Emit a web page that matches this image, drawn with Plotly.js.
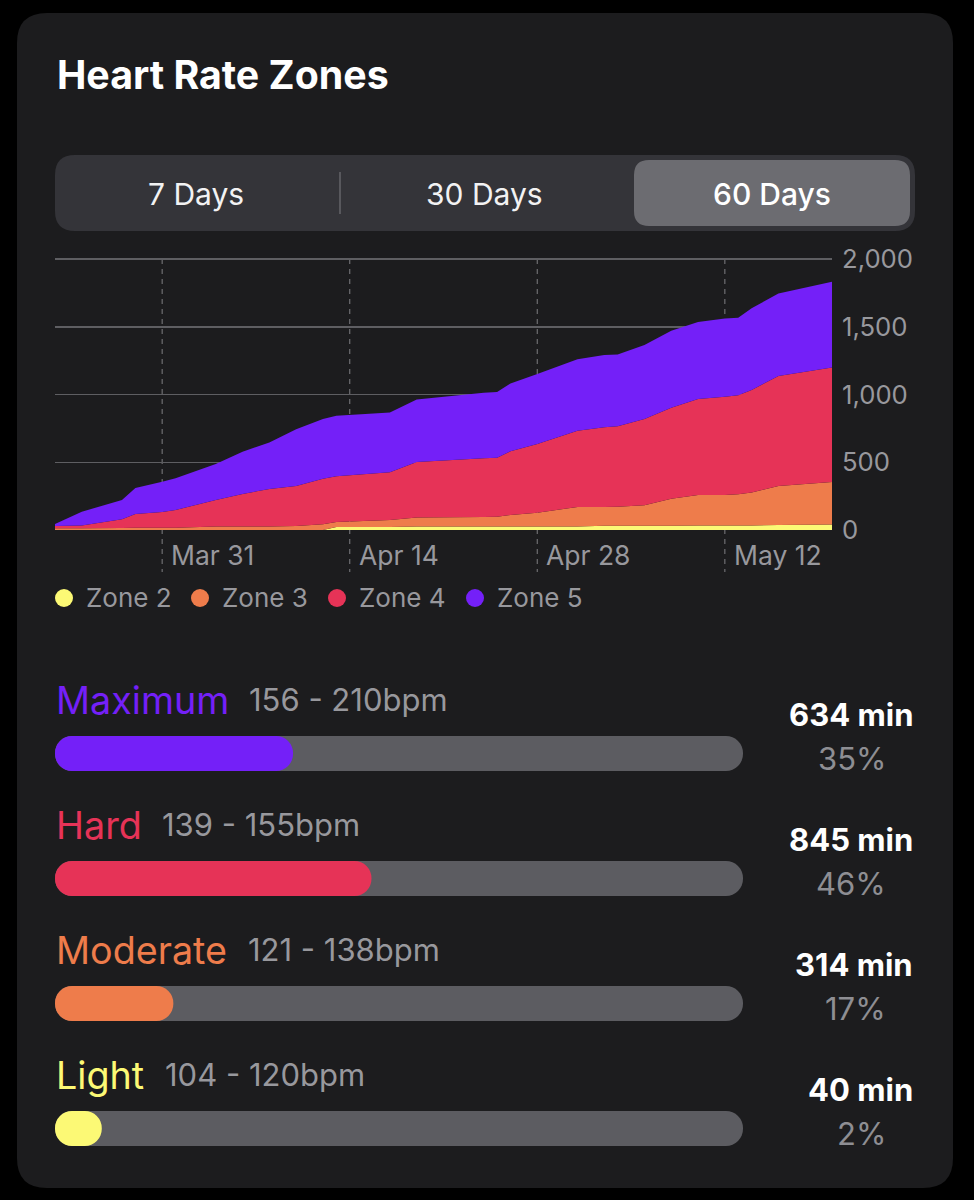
<!DOCTYPE html>
<html>
<head>
<meta charset="utf-8">
<script src="https://cdn.plot.ly/plotly-3.0.1.min.js"></script>
<style>
  html, body { margin: 0; padding: 0; background: #000; }
</style>
</head>
<body>
<div id="chart" style="width:974px;height:1200px"></div>
<script>
const dates = ['2021-03-23', '2021-03-25', '2021-03-28', '2021-03-29', '2021-03-31', '2021-04-01', '2021-04-04', '2021-04-06',
  '2021-04-08', '2021-04-10', '2021-04-12', '2021-04-13', '2021-04-17', '2021-04-19', '2021-04-24', '2021-04-25',
  '2021-04-26', '2021-04-28', '2021-05-01', '2021-05-03', '2021-05-04', '2021-05-06', '2021-05-08', '2021-05-10',
  '2021-05-12', '2021-05-13', '2021-05-14', '2021-05-16', '2021-05-20'];

const zone2 = [0, 0, 0, 0, 0, 0, 0, 0, 0, 0, 0, 22, 22, 25, 25, 25, 25, 25, 25, 32, 32, 32, 32, 33, 33, 33, 34, 37, 40];
const zone3 = [12, 12, 15, 17, 17, 17, 25, 25, 25, 30, 42, 37, 52, 68, 71, 73, 86, 103, 145, 138, 140, 150, 199, 225, 225, 230, 242, 288, 314];
const zone4 = [18, 22, 64, 101, 116, 131, 196, 241, 278, 295, 337, 337, 352, 409, 433, 436, 470, 507, 563, 588, 593, 637, 672, 709, 726, 731, 757, 812, 845];
const zone5 = [14, 101, 142, 192, 224, 233, 266, 312, 342, 418, 440, 448, 442, 462, 484, 484, 501, 516, 527, 534, 531, 546, 568, 568, 576, 573, 603, 609, 634];

const zoneNames = ['Zone 2', 'Zone 3', 'Zone 4', 'Zone 5'];
const zoneColors = ['#FCF975', '#EE7C4B', '#E63357', '#7420F8'];

const xTickDates = ['2021-03-31', '2021-04-14', '2021-04-28', '2021-05-12'];
const xTickLabels = ['Mar 31', 'Apr 14', 'Apr 28', 'May 12'];
const yTicks = [0, 500, 1000, 1500, 2000];

const tabs = ['7 Days', '30 Days', '60 Days'];

const levelNames = ['Maximum', 'Hard', 'Moderate', 'Light'];
const levelRanges = ['156 - 210bpm', '139 - 155bpm', '121 - 138bpm', '104 - 120bpm'];
const levelColors = ['#7420F8', '#E63357', '#EE7C4B', '#FCF975'];
const levelFill = [34.6, 46, 17.2, 6.8];
const levelTrack = [100, 100, 100, 100];
const levelMinutes = ['634 min', '845 min', '314 min', '40 min'];
const levelPercents = ['35%', '46%', '17%', '2%'];

const FONT = 'Inter, "Noto Sans", sans-serif';
const W = 974;
const H = 1200;
const GREY = '#98989D';

const px = (x) => x / W;
const py = (y) => 1 - y / H;

const roundRect = (x0, y0, x1, y1, r) => {
  const X0 = px(x0), X1 = px(x1), Y0 = py(y0), Y1 = py(y1);
  const XA = px(x0 + r), XB = px(x1 - r), YA = py(y0 + r), YB = py(y1 - r);
  return `M${XA},${Y0} L${XB},${Y0} Q${X1},${Y0} ${X1},${YA} L${X1},${YB} Q${X1},${Y1} ${XB},${Y1} ` +
    `L${XA},${Y1} Q${X0},${Y1} ${X0},${YB} L${X0},${YA} Q${X0},${Y0} ${XA},${Y0} Z`;
};

const paperBox = (x0, y0, x1, y1, r, color) => ({
  type: 'path', xref: 'paper', yref: 'paper', layer: 'below',
  path: roundRect(x0, y0, x1, y1, r), fillcolor: color, line: { width: 0 }
});

const text = (str, x, y, size, color, anchor, weight) => ({
  text: str, x: px(x), y: py(y), xref: 'paper', yref: 'paper',
  xanchor: anchor, yanchor: 'middle', showarrow: false,
  font: { family: FONT, size: size, color: color, weight: weight || 400 }
});

const shapes = [
  paperBox(17, 13, 953, 1188, 30, '#1C1C1E'),
  paperBox(55, 155, 915, 231, 20, '#343439'),
  paperBox(634, 160, 910, 226, 15, '#6C6C71'),
  {
    type: 'line', xref: 'paper', yref: 'paper', layer: 'below',
    x0: px(340), x1: px(340), y0: py(172), y1: py(214),
    line: { color: '#58585D', width: 2 }
  }
];

xTickDates.forEach((d) => {
  shapes.push({
    type: 'line', xref: 'x', yref: 'paper', layer: 'below',
    x0: d, x1: d, y0: py(259), y1: py(572),
    line: { color: '#6E6E72', width: 1.2, dash: '5px,5px' }
  });
});

const annotations = [
  text('Heart Rate Zones', 55, 74.5, 39.3, '#FFFFFF', 'left', 700),
  text(tabs[0], 196, 193.5, 30, '#F2F2F3', 'center'),
  text(tabs[1], 484, 193.5, 30, '#F2F2F3', 'center'),
  text(tabs[2], 772, 193.5, 30, '#FFFFFF', 'center', 500)
];

xTickDates.forEach((d, i) => {
  annotations.push({
    text: xTickLabels[i], x: d, y: py(555), xref: 'x', yref: 'paper',
    xanchor: 'left', yanchor: 'middle', xshift: 7, showarrow: false,
    font: { family: FONT, size: 26.5, color: GREY }
  });
});

const legendX = [64, 200, 337, 475];
zoneNames.forEach((name, i) => {
  shapes.push({
    type: 'circle', xref: 'paper', yref: 'paper', layer: 'above',
    x0: px(legendX[i] - 9), x1: px(legendX[i] + 9), y0: py(589), y1: py(607),
    fillcolor: zoneColors[i], line: { width: 0 }
  });
  annotations.push(text(name, legendX[i] + 20, 597, 26, GREY, 'left'));
});

const rangeX = [247, 160, 246, 163];
levelNames.forEach((name, i) => {
  const rowY = 125 * i;
  annotations.push(text(name, 54, 700 + rowY, 37.7, levelColors[i], 'left'));
  annotations.push(text(levelRanges[i], rangeX[i], 699 + rowY, 31, GREY, 'left'));
  annotations.push(text(levelMinutes[i], 915, 714 + rowY, 31, '#FFFFFF', 'right', 700));
  annotations.push(text(levelPercents[i], 888, 758 + rowY, 31, '#8E8E93', 'right'));
});

const areaTraces = [zone2, zone3, zone4, zone5].map((zone, i) => ({
  x: dates,
  y: zone,
  name: zoneNames[i],
  type: 'scatter',
  mode: 'none',
  stackgroup: 'zones',
  fillcolor: zoneColors[i],
  hoverinfo: 'skip'
}));

// with a base array plotly rounds both ends of the bar, not just the far one
const pillTrace = (values, color) => ({
  type: 'bar', orientation: 'h', xaxis: 'x2', yaxis: 'y2',
  y: levelNames,
  x: values,
  base: values.map(() => 0),
  width: 0.28,
  marker: { color: color, line: { width: 0 } },
  hoverinfo: 'skip'
});

const layout = {
  width: W,
  height: H,
  margin: { t: 0, l: 0, r: 0, b: 0 },
  paper_bgcolor: '#000000',
  plot_bgcolor: 'rgba(0,0,0,0)',
  showlegend: false,
  barmode: 'overlay',
  barcornerradius: 17.5,
  xaxis: {
    type: 'date',
    domain: [px(55), px(832)],
    range: ['2021-03-23', '2021-05-20'],
    showgrid: false,
    zeroline: false,
    showticklabels: false,
    ticks: ''
  },
  yaxis: {
    // range runs past 2,000 so the top gridline is not clipped off as an edge tick
    domain: [py(530), py(256.97)],
    range: [0, 2015],
    side: 'right',
    tickvals: yTicks,
    tickformat: ',d',
    ticklabelstandoff: 9,
    tickfont: { family: FONT, size: 25.7, color: GREY },
    gridcolor: '#5E5E62',
    gridwidth: 1.5,
    zeroline: false,
    ticks: ''
  },
  xaxis2: {
    anchor: 'y2',
    domain: [px(55), px(743)],
    range: [0, 100],
    visible: false
  },
  yaxis2: {
    anchor: 'x2',
    domain: [py(1191), py(691)],
    type: 'category',
    categoryorder: 'array',
    categoryarray: levelNames,
    range: [3.5, -0.5],
    visible: false
  },
  shapes: shapes,
  annotations: annotations
};

Plotly.newPlot('chart', [...areaTraces, pillTrace(levelTrack, '#5C5C61'), pillTrace(levelFill, levelColors)], layout, { displayModeBar: false, staticPlot: true });
</script>
</body>
</html>
